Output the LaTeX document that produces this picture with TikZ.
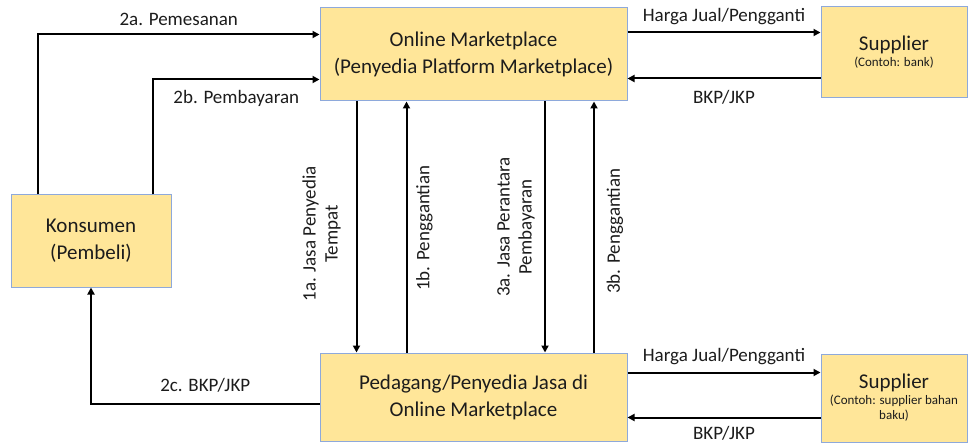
\documentclass[tikz,border=0pt]{standalone}
\usepackage{fontspec}
\setmainfont{Carlito}
\usepackage{tikz}
\usetikzlibrary{arrows.meta,positioning}
\definecolor{mpFill}{HTML}{FFE699}
\definecolor{mpEdge}{HTML}{8EA9DB}
\definecolor{mpInk}{HTML}{1C1C1C}
\tikzset{
  mp diagram/.style={x=1pt, y=1pt, text=mpInk},
  mp box/.style={draw=mpEdge, fill=mpFill, line width=1pt,
    align=center, inner sep=0pt, font=\fontsize{21}{27}\selectfont},
  mp arrow/.style={-{Triangle[length=7pt,width=7pt]}, draw=black, line width=2pt},
  mp label/.style={font=\fontsize{19}{22}\selectfont, inner sep=0pt}
}
\newcommand{\mpnote}[1]{{\fontsize{13}{15}\selectfont #1}}

\begin{document}
\begin{tikzpicture}[mp diagram]
\useasboundingbox (0,0) rectangle (969,445);
% boxes
\node[mp box, minimum width=307pt, minimum height=93pt] (market) at (473.5,390.5)
  {Online Marketplace\\(Penyedia Platform Marketplace)};
\node[mp box, minimum width=307pt, minimum height=88pt] (trader) at (473.5,48)
  {Pedagang/Penyedia Jasa di\\Online Marketplace};
\node[mp box, minimum width=160pt, minimum height=92pt] (buyer) at (91,204)
  {Konsumen\\(Pembeli)};
\node[mp box, minimum width=146pt, minimum height=91pt] (bank) at (894,392.5)
  {Supplier\\[-11pt]\mpnote{(Contoh: bank)}};
\node[mp box, minimum width=146pt, minimum height=88pt] (maker) at (894,47)
  {Supplier\\[-11pt]\mpnote{(Contoh: supplier bahan}\\[-12pt]\mpnote{baku)}};

% consumer and marketplace
\draw[mp arrow] ([xshift=-53pt]buyer.north) |- ([yshift=20pt]market.west)
  node[mp label, pos=0.75, anchor=base, yshift=9pt] {2a. Pemesanan};
\draw[mp arrow] ([xshift=62pt]buyer.north) |- ([yshift=-25pt]market.west)
  node[mp label, pos=0.75, anchor=base, yshift=-24pt] {2b. Pembayaran};
\draw[mp arrow] ([yshift=-7pt]trader.west) -| (buyer.south)
  node[mp label, pos=0.25, anchor=base, yshift=13pt] {2c. BKP/JKP};

% marketplace and trader
\draw[mp arrow] ([xshift=-117pt]market.south) -- ([xshift=-117pt]trader.north)
  node[mp label, midway, xshift=-35pt, yshift=-7pt, rotate=90, align=center]
  {1a. Jasa Penyedia\\Tempat};
\draw[mp arrow] ([xshift=-67pt]trader.north) -- ([xshift=-67pt]market.south)
  node[mp label, midway, xshift=18pt, yshift=-1pt, rotate=90] {1b. Penggantian};
\draw[mp arrow] ([xshift=71.5pt]market.south) -- ([xshift=71.5pt]trader.north)
  node[mp label, midway, xshift=-29pt, rotate=90, align=center]
  {3a. Jasa Perantara\\Pembayaran};
\draw[mp arrow] ([xshift=120.5pt]trader.north) -- ([xshift=120.5pt]market.south)
  node[mp label, midway, xshift=21pt, yshift=-4pt, rotate=90] {3b. Penggantian};

% suppliers
\draw[mp arrow] ([yshift=22pt]market.east) -- ([yshift=22pt]market.east -| bank.west)
  node[mp label, midway, anchor=base, yshift=10.5pt] {Harga Jual/Pengganti};
\draw[mp arrow] ([yshift=-24pt]market.east -| bank.west) -- ([yshift=-24pt]market.east)
  node[mp label, midway, anchor=base, yshift=-25pt] {BKP/JKP};
\draw[mp arrow] ([yshift=24.5pt]trader.east) -- ([yshift=24.5pt]trader.east -| maker.west)
  node[mp label, midway, anchor=base, yshift=11.5pt] {Harga Jual/Pengganti};
\draw[mp arrow] ([yshift=-20.5pt]trader.east -| maker.west) -- ([yshift=-20.5pt]trader.east)
  node[mp label, midway, anchor=base, yshift=-22pt] {BKP/JKP};
\end{tikzpicture}
\end{document}
